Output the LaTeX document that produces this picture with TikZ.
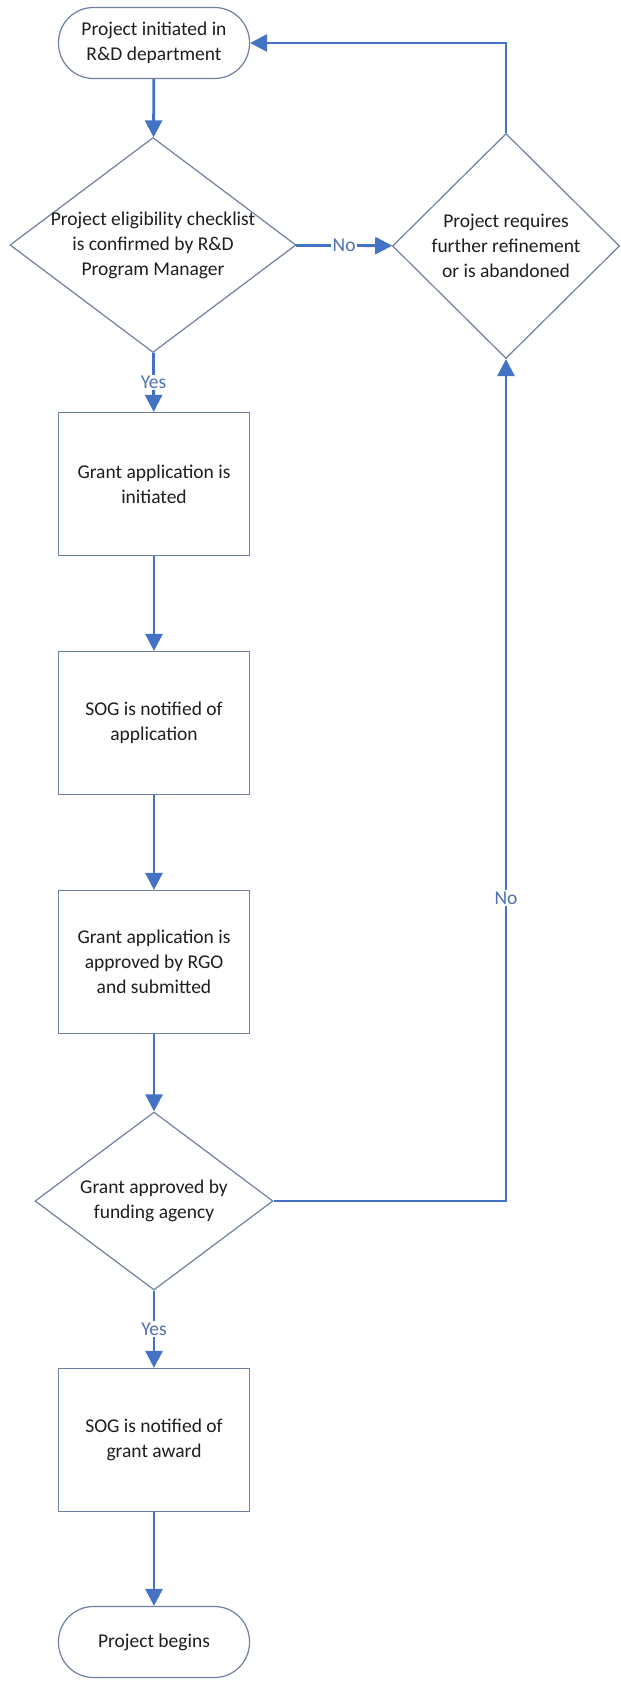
\documentclass[tikz,border=0pt]{standalone}
\usepackage{fontspec}
\setmainfont{Carlito}
\usetikzlibrary{arrows.meta,shapes.geometric}

\definecolor{flowblue}{RGB}{68,114,196}
\definecolor{edgegray}{RGB}{112,128,160}
\definecolor{labelblue}{RGB}{78,112,176}
\definecolor{inkgray}{RGB}{30,30,30}

\tikzset{
  txt/.style={align=center, text=inkgray, font=\fontsize{19.5}{25}\selectfont},
  box/.style={txt, draw=edgegray, line width=1.2pt, fill=white,
    minimum width=191pt, minimum height=143pt},
  terminal/.style={box, rounded corners=35pt, minimum height=71pt},
  decision/.style={draw=edgegray, line width=1.2pt, fill=white, diamond,
    inner sep=0pt},
  flow/.style={draw=flowblue, line width=2.8pt,
    -{Triangle[width=17pt,length=17pt]}},
  lbl/.style={fill=white, text=labelblue, inner sep=1.5pt,
    font=\fontsize{19.5}{22}\selectfont},
}

\begin{document}
\begin{tikzpicture}[x=1pt, y=-1pt]
  \useasboundingbox (0,0) rectangle (621,1684);

  \node[terminal] (start) at (154,43) {Project initiated in\\R\&D department};
  \node[decision, minimum width=286pt, minimum height=215pt,
    label={[txt]center:{Project eligibility checklist\\is confirmed by R\&D\\Program Manager}}] (check) at (153,245) {};
  \node[decision, minimum width=227pt, minimum height=225pt,
    label={[txt]center:{Project requires\\further refinement\\or is abandoned}}] (refine) at (506,246) {};
  \node[box] (initiate) at (154,484) {Grant application is\\initiated};
  \node[box] (notify) at (154,723) {SOG is notified of\\application};
  \node[box] (submit) at (154,962) {Grant application is\\approved by RGO\\and submitted};
  \node[decision, minimum width=238pt, minimum height=178pt,
    label={[txt]center:{Grant approved by\\funding agency}}] (funded) at (154,1201) {};
  \node[box] (award) at (154,1440) {SOG is notified of\\grant award};
  \node[terminal] (begin) at (154,1642) {Project begins};

  \draw[flow] (start) -- (check);
  \draw[flow] (check) -- node[lbl] {No} (refine);
  \draw[flow] (check) -- node[lbl] {Yes} (initiate);
  \draw[flow] (initiate) -- (notify);
  \draw[flow] (notify) -- (submit);
  \draw[flow] (submit) -- (funded);
  \draw[flow] (funded) -- node[lbl] {Yes} (award);
  \draw[flow] (award) -- (begin);
  \draw[flow] (funded.east) -| node[lbl, pos=0.68] {No} (refine.south);
  \draw[flow] (refine.north) |- (start.east);
\end{tikzpicture}
\end{document}
